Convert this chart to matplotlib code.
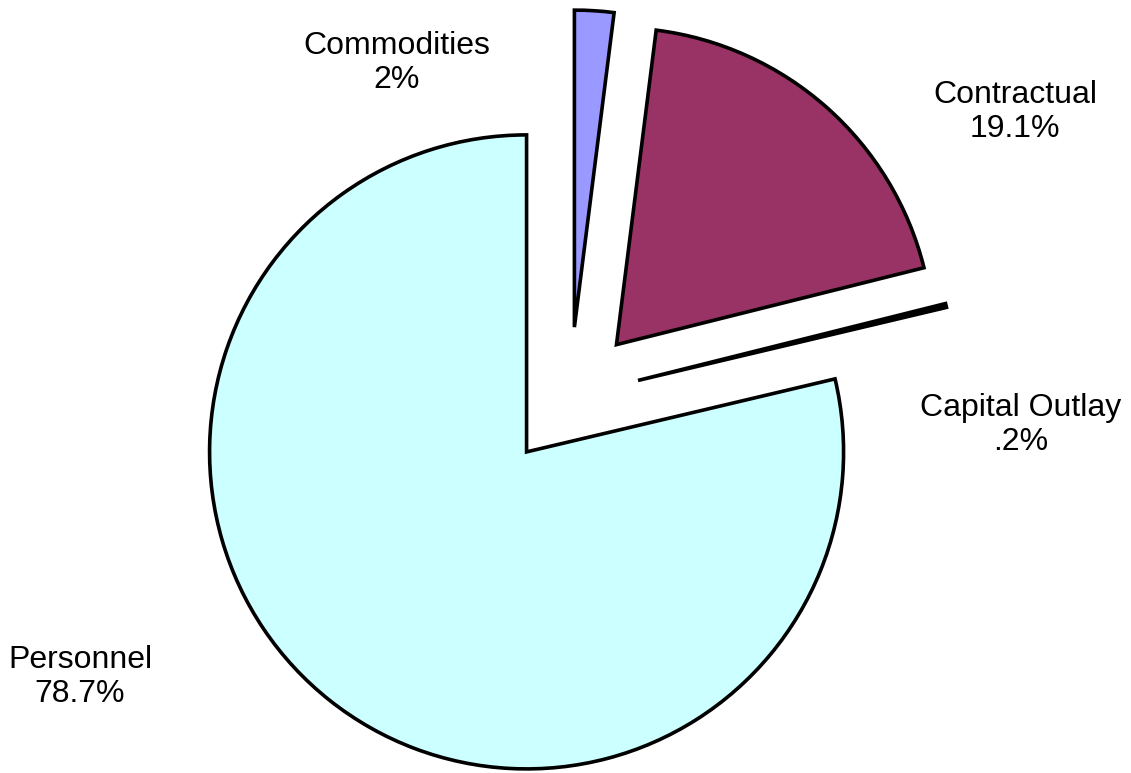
import matplotlib
matplotlib.use("Agg")
import matplotlib.pyplot as plt

categories = ["Personnel", "Capital Outlay", "Contractual", "Commodities"]
values = [78.7, 0.2, 19.1, 2.0]
pct_labels = ["78.7%", ".2%", "19.1%", "2%"]
colors = ["#CCFFFF", "#000000", "#993366", "#9999FF"]

W, H = 1131, 773
fig = plt.figure(figsize=(W / 100, H / 100), dpi=100)
ax = fig.add_axes([0, 0, 1, 1])

cx, cy = 570, H - 397
ax.pie(values, colors=colors, startangle=90, counterclock=True,
       center=(cx, cy), radius=317, explode=[70] * len(values),
       wedgeprops=dict(edgecolor="black", linewidth=2.6), frame=True)
ax.set_xlim(0, W)
ax.set_ylim(0, H)
ax.set_aspect("equal")
ax.axis("off")

label_pos = {"Personnel": (80, 677), "Capital Outlay": (1021, 425),
             "Contractual": (1015, 112), "Commodities": (397, 63)}
for cat, p in zip(categories, pct_labels):
    x, y = label_pos[cat]
    ax.text(x, H - y, f"{cat}\n{p}", ha="center", va="center",
            fontsize=23, family="Liberation Sans", linespacing=1.2)

fig.savefig("out.png", dpi=100)
